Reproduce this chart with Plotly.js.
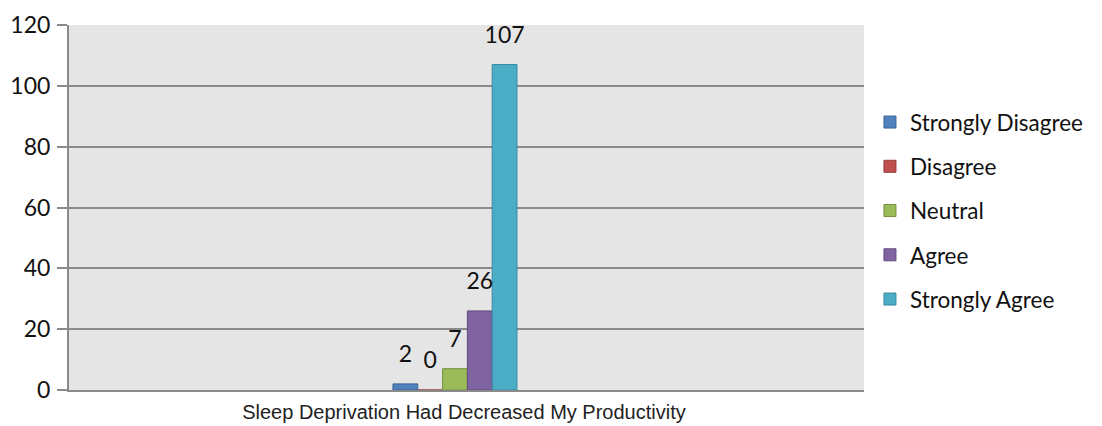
<!DOCTYPE html>
<html>
<head>
<meta charset="utf-8">
<script src="https://cdn.plot.ly/plotly-3.0.1.min.js"></script>
<style>html,body{margin:0;padding:0;background:#fff;}#chart{width:1102px;height:426px;}</style>
</head>
<body>
<div id="chart"></div>
<script>
const categories = ["Sleep Deprivation Had Decreased My Productivity"];
const seriesNames = ["Strongly Disagree", "Disagree", "Neutral", "Agree", "Strongly Agree"];
const stronglyDisagree = [2];
const disagree = [0];
const neutral = [7];
const agree = [26];
const stronglyAgree = [107];
const yTickVals = [0, 20, 40, 60, 80, 100, 120];

const seriesValues = [stronglyDisagree, disagree, neutral, agree, stronglyAgree];
const fills = ["#4F81BD", "#C0504D", "#9BBB59", "#8064A2", "#4BACC6"];
const edges = ["#3A6594", "#943C3A", "#76913F", "#614B7E", "#378AA1"];
const GAP = 0.844;

const traces = [];
seriesNames.forEach((name, i) => {
  traces.push({
    type: "bar", name: name, x: categories, y: seriesValues[i],
    offsetgroup: "g" + i, legendgroup: "g" + i,
    marker: {color: fills[i], line: {color: edges[i], width: 1}},
    hoverinfo: "name+y"
  });
});
seriesNames.forEach((name, i) => {
  traces.push({
    type: "scatter", mode: "markers+text", x: categories, y: seriesValues[i],
    offsetgroup: "g" + i, showlegend: false, hoverinfo: "skip",
    text: seriesValues[i].map(String), textposition: "top center",
    textfont: {family: "Lato, 'Open Sans', sans-serif", size: 23, color: "#111"},
    marker: {size: 24, opacity: 0}, cliponaxis: false
  });
});

const axisGray = "#8a8a8a";
const layout = {
  width: 1102, height: 426,
  margin: {l: 69, r: 238, t: 25, b: 36},
  paper_bgcolor: "#ffffff", plot_bgcolor: "#e5e5e5",
  barmode: "group", bargap: GAP, bargroupgap: 0,
  scattermode: "group", scattergap: GAP,
  showlegend: true,
  legend: {
    x: 1.0075, xanchor: "left", y: 0.792, yanchor: "top",
    font: {family: "Lato, 'Open Sans', sans-serif", size: 22.5, color: "#111"},
    traceorder: "grouped", tracegroupgap: 12, bgcolor: "rgba(0,0,0,0)"
  },
  xaxis: {
    type: "category", range: [-0.4855, 0.5145],
    showline: true, linecolor: axisGray, linewidth: 2,
    showgrid: false, ticks: "", zeroline: false,
    tickfont: {family: "'Liberation Sans', Arial, sans-serif", size: 20, color: "#222"},
    ticklabelstandoff: 3, ticklabelshift: 9, fixedrange: true
  },
  yaxis: {
    range: [0, 120], tickmode: "array", tickvals: yTickVals,
    showline: true, linecolor: axisGray, linewidth: 2,
    showgrid: true, gridcolor: axisGray, gridwidth: 2,
    zeroline: false, ticks: "outside", ticklen: 10, tickwidth: 2, tickcolor: axisGray,
    tickfont: {family: "Lato, 'Open Sans', sans-serif", size: 23, color: "#111"},
    ticklabelstandoff: 2, fixedrange: true
  }
};

Plotly.newPlot("chart", traces, layout, {displayModeBar: false, staticPlot: true});
</script>
</body>
</html>
